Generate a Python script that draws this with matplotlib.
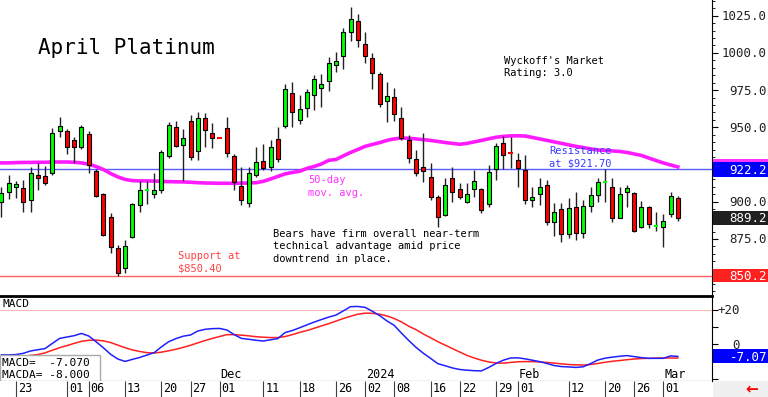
import numpy as np
import matplotlib.pyplot as plt
from matplotlib.patches import Rectangle
from matplotlib.ticker import MultipleLocator
from matplotlib.transforms import blended_transform_factory, offset_copy

# daily bars, index 0 = Oct 23 2023 ... 91 = Mar 5 2024
bar_idx = np.arange(-2, 92)
opens = [900.1, 906.5, 909.7, 909.1, 901.2, 918.0, 917.3, 919.2, 947.8, 947.8,
         941.5, 936.6, 945.5, 920.7, 905.0, 890.0, 868.8, 855.4, 876.6, 897.9,
         908.0, 905.3, 908.0, 930.8, 950.1, 938.2, 954.3, 934.3, 956.1, 946.0,
         942.9, 949.4, 930.8, 910.6, 899.0, 918.0, 927.4, 923.2, 942.0, 950.9,
         973.3, 955.0, 962.8, 971.7, 976.2, 981.3, 991.7, 997.9, 1013.9, 1021.6,
         1005.8, 996.4, 985.8, 967.9, 970.2, 956.1, 941.5, 928.7, 923.6, 916.5,
         903.5, 891.1, 915.8, 908.4, 900.1, 908.4, 908.4, 898.5, 921.8, 939.3,
         932.8, 928.1, 921.4, 901.2, 905.0, 911.3, 886.7, 895.2, 878.2, 896.7,
         878.9, 897.2, 904.6, 913.3, 910.2, 889.3, 906.4, 905.7, 883.3, 896.7,
         883.3, 883.3, 891.6, 902.4]
highs = [910.2, 917.9, 914.0, 914.5, 923.2, 925.9, 924.1, 949.4, 957.2, 948.9,
         943.7, 951.6, 947.8, 921.9, 905.7, 892.7, 871.0, 874.4, 899.4, 914.2,
         914.2, 919.2, 934.8, 953.8, 954.3, 948.7, 958.3, 960.5, 959.9, 952.7,
         943.1, 956.8, 932.1, 923.2, 923.6, 936.6, 938.6, 941.5, 950.5, 979.1,
         980.7, 971.7, 975.6, 985.2, 985.8, 997.5, 1000.8, 1016.5, 1030.6, 1026.1,
         1014.3, 1000.2, 987.4, 980.7, 976.2, 963.5, 944.9, 934.8, 946.0, 925.9,
         904.6, 915.8, 923.6, 912.8, 912.4, 921.4, 909.1, 924.7, 939.7, 944.2,
         943.7, 932.8, 931.4, 910.2, 915.8, 914.7, 899.0, 899.0, 902.4, 906.8,
         901.2, 910.2, 916.2, 921.8, 915.8, 910.2, 911.3, 906.8, 900.6, 897.2,
         893.0, 891.6, 906.8, 904.0]
lows = [889.6, 901.9, 902.6, 893.4, 893.1, 908.0, 911.3, 918.0, 943.7, 932.1,
        925.9, 935.5, 919.6, 903.0, 877.0, 865.8, 850.4, 852.0, 875.5, 893.4,
        898.5, 902.4, 905.7, 929.2, 936.6, 914.2, 928.1, 928.1, 936.6, 935.9,
        942.7, 929.9, 908.0, 897.9, 896.7, 916.9, 921.4, 920.9, 927.0, 949.4,
        950.5, 952.3, 957.2, 961.7, 963.5, 974.6, 987.4, 989.0, 1008.2, 1004.2,
        993.0, 975.6, 963.5, 953.8, 954.5, 941.5, 925.9, 917.3, 913.5, 901.2,
        883.0, 890.5, 900.1, 901.7, 899.0, 903.5, 892.3, 896.7, 914.7, 921.8,
        922.7, 910.2, 898.5, 896.7, 897.9, 884.4, 877.2, 872.8, 875.9, 874.4,
        875.5, 893.4, 900.1, 900.1, 886.3, 888.9, 896.7, 879.5, 882.2, 882.2,
        880.4, 869.9, 890.0, 887.1]
closes = [905.7, 912.9, 912.0, 899.7, 919.2, 915.8, 912.8, 946.0, 950.9, 936.6,
          936.6, 950.1, 924.7, 903.9, 877.7, 869.5, 852.0, 870.3, 898.5, 908.0,
          908.4, 908.0, 933.3, 951.6, 937.5, 943.1, 929.9, 956.5, 948.2, 942.7,
          942.7, 932.6, 913.3, 901.5, 919.2, 927.0, 922.5, 937.1, 929.0, 975.6,
          960.5, 962.1, 973.6, 982.5, 978.9, 993.0, 994.8, 1013.9, 1022.6, 1008.7,
          997.9, 986.7, 965.7, 971.1, 959.0, 942.7, 929.2, 919.4, 920.9, 903.5,
          890.0, 911.3, 906.8, 903.0, 905.0, 914.0, 894.5, 920.2, 937.5, 931.4,
          932.5, 922.5, 901.2, 903.5, 910.2, 886.3, 893.0, 878.2, 896.1, 878.9,
          897.2, 904.6, 913.1, 913.5, 889.3, 905.3, 909.5, 880.4, 896.7, 884.9,
          883.5, 887.1, 903.9, 889.2]
ma50 = [926.1, 926.1, 926.3, 926.4, 926.4, 926.5, 926.5, 926.7, 926.7, 926.7,
        926.5, 926.1, 925.2, 923.7, 921.7, 919.0, 916.7, 915.0, 914.2, 914.0,
        914.0, 913.9, 913.7, 913.5, 913.4, 913.3, 913.1, 912.8, 912.6, 912.5,
        912.4, 912.4, 912.4, 912.5, 912.6, 912.8, 913.7, 915.3, 917.0, 918.7,
        919.7, 920.5, 922.4, 923.7, 925.4, 927.8, 928.4, 930.8, 933.1, 935.1,
        937.2, 938.5, 939.7, 941.2, 942.2, 942.8, 942.6, 942.2, 941.7, 941.2,
        940.5, 939.8, 939.2, 938.6, 939.2, 940.2, 941.2, 942.3, 943.3, 943.9,
        944.2, 944.3, 944.1, 943.2, 942.2, 941.2, 940.2, 939.2, 938.2, 937.2,
        936.4, 935.5, 934.8, 934.5, 934.1, 933.8, 933.1, 932.1, 931.1, 929.4,
        927.7, 926.1, 924.7, 923.4]
macd = [-6.2, -6.2, -6.0, -5.3, -3.9, -3.2, -2.5, 0.5, 3.4, 4.2,
        5.0, 6.3, 4.8, 1.5, -2.0, -5.8, -8.6, -10.0, -8.8, -7.7,
        -6.3, -4.9, -1.5, 1.5, 3.3, 4.7, 5.4, 7.7, 8.7, 9.1,
        9.2, 8.3, 5.6, 3.4, 2.9, 2.3, 1.9, 2.6, 3.3, 6.8,
        8.0, 9.6, 11.3, 12.9, 14.4, 15.8, 17.0, 19.4, 21.9, 22.0,
        21.5, 19.2, 16.7, 13.6, 11.0, 6.5, 2.2, -1.8, -5.2, -8.2,
        -11.3, -12.5, -13.8, -14.7, -15.1, -15.4, -15.5, -13.5, -11.2, -9.3,
        -8.0, -7.9, -8.5, -9.3, -10.1, -11.2, -12.4, -13.0, -13.2, -13.5,
        -13.1, -11.3, -9.2, -8.1, -7.5, -7.0, -6.6, -7.2, -7.8, -8.2,
        -8.2, -8.2, -6.8, -7.07]
macda = [-8.5, -8.0, -7.5, -7.0, -6.5, -6.0, -5.0, -3.5, -2.0, -0.8,
         0.5, 1.7, 2.3, 2.4, 2.0, 1.0, -0.5, -2.0, -3.3, -4.2,
         -4.9, -5.1, -4.6, -3.8, -2.9, -1.8, -0.6, 0.8, 2.2, 3.4,
         4.5, 5.6, 5.6, 5.3, 4.9, 4.4, 4.1, 3.9, 3.9, 4.5,
         5.6, 6.9, 8.0, 9.3, 10.7, 12.0, 13.5, 15.0, 16.3, 17.5,
         18.1, 18.0, 17.5, 16.5, 15.0, 13.0, 10.5, 8.5, 6.0, 3.8,
         1.5, -0.5, -2.5, -4.5, -6.5, -8.0, -9.3, -10.3, -10.9, -11.0,
         -10.6, -10.2, -10.1, -10.1, -10.3, -10.6, -11.0, -11.4, -11.8, -12.0,
         -12.1, -11.8, -11.2, -10.5, -9.9, -9.5, -9.0, -8.6, -8.3, -8.2,
         -8.1, -8.0, -8.0, -8.0]

tick_pos = [0, 7, 10, 15, 20, 24, 28, 34, 39, 44, 48, 52, 57, 61, 66, 69, 76, 81, 85, 89]
tick_lbl = ['23', '01', '06', '13', '20', '27', '01', '11', '18', '26',
            '02', '08', '16', '22', '29', '01', '12', '20', '26', '01']
month_pos = [28, 48, 69, 89]
month_lbl = ['Dec', '2024', 'Feb', 'Mar']

resistance = 921.70
support = 850.40
price_ticks = [875.0, 900.0, 950.0, 975.0, 1000.0, 1025.0]
macd_ticks = [20, 0]

MONO = 'DejaVu Sans Mono'
W, H = 768, 397
fig = plt.figure(figsize=(W / 100, H / 100), dpi=100)
fig.patch.set_facecolor('white')


def fx(x):
    return x / W


def fy(y):
    return 1 - y / H


ax = fig.add_axes([0, fy(296), fx(712), 296 / H])
mx = fig.add_axes([0, fy(381), fx(712), 85 / H])
dx = fig.add_axes([0, 0, fx(712), 16 / H])
for a in (ax, mx, dx):
    a.set_xlim(-2.2, 95.7)
    a.set_xticks([])
    for s in a.spines.values():
        s.set_visible(False)
ax.set_ylim(836.7, 1035.5)
mx.set_ylim(-21.4, 28.1)
dx.set_ylim(0, 1)
dx.set_yticks([])

ax.spines['right'].set_visible(True)
mx.spines['right'].set_visible(True)
mx.spines['top'].set_visible(True)
mx.spines['top'].set_linewidth(2)
mx.spines['bottom'].set_visible(True)

# price panel
ax.axhline(resistance, color='#5a5aff', lw=1, zorder=1)
ax.axhline(support, color='#ff6060', lw=1, zorder=1)
ax.plot(bar_idx, ma50, color='#ff1aff', lw=2.6, zorder=2)

o = np.array(opens)
c = np.array(closes)
cols = np.where(c >= o, '#00ff00', '#ff0000')
ax.vlines(bar_idx, lows, highs, color='#222222', lw=1, zorder=3)
body = np.abs(c - o) >= 0.8
ax.bar(bar_idx[body], np.abs(c - o)[body], bottom=np.minimum(o, c)[body], width=0.56,
       color=cols[body], edgecolor='black', linewidth=0.8, zorder=4)
doji = ~body
ax.hlines(((o + c) / 2)[doji], bar_idx[doji] - 0.3, bar_idx[doji] + 0.3,
          color=cols[doji], lw=1.5, zorder=4)

ax.yaxis.tick_right()
ax.set_yticks(price_ticks)
ax.yaxis.set_minor_locator(MultipleLocator(5))
ax.tick_params(axis='y', which='major', length=4, labelright=False)
ax.tick_params(axis='y', which='minor', length=2)

ptr = blended_transform_factory(fig.transFigure, ax.transData)
for v in price_ticks:
    ax.text(fx(767), v, f'{v:.1f}', transform=offset_copy(ptr, fig=fig, y=-4.5, units='dots'),
            ha='right', va='baseline', fontsize=9, family=MONO, color='#222222')


def right_box(axis, val, text, fc, h, tr):
    axis.add_patch(Rectangle((fx(713), val - h / 2), fx(55), h, transform=tr,
                             facecolor=fc, edgecolor='none', clip_on=False, zorder=5))
    if text:
        axis.text(fx(767), val, text, transform=offset_copy(tr, fig=fig, y=-4.5, units='dots'),
                  ha='right', va='baseline', color='white', fontsize=9, family=MONO, zorder=6)


right_box(ax, ma50[-1], '', '#ff33ff', 10.1, ptr)
right_box(ax, resistance, '922.2', '#0000ff', 10.1, ptr)
right_box(ax, closes[-1], '889.2', '#202020', 9.5, ptr)
right_box(ax, support, '850.2', '#ff2020', 8.5, ptr)

# annotations
fig.text(fx(38), fy(54.5), 'April Platinum', fontsize=15, family=MONO, color='black')
note = dict(fontsize=7.5, family=MONO, linespacing=1.3)
fig.text(fx(504), fy(76.5), "Wyckoff's Market\nRating: 3.0", color='black', **note)
fig.text(fx(273), fy(261.5), 'Bears have firm overall near-term\ntechnical advantage amid price\ndowntrend in place.',
         color='black', **note)
fig.text(fx(308), fy(195.5), '50-day\nmov. avg.', color='#ff33ff', **note)
fig.text(fx(549), fy(166), 'Resistance\nat $921.70', color='#3a3aff', **note)
fig.text(fx(178), fy(271.7), 'Support at\n$850.40', color='#ff4040', **note)

# MACD panel
mx.axhline(20, color='#ffb8b8', lw=0.8, zorder=1)
mx.plot(bar_idx, macda, color='#ff2020', lw=1.1, zorder=2)
mx.plot(bar_idx, macd, color='#2020ff', lw=1.1, zorder=3)
mx.yaxis.tick_right()
mx.set_yticks([-20, -10, 0, 10, 20])
mx.tick_params(axis='y', length=4, labelright=False)
mtr = blended_transform_factory(fig.transFigure, mx.transData)
for v in macd_ticks:
    mx.text(fx(740), v, f'{v:+d}' if v else '0', transform=offset_copy(mtr, fig=fig, y=-4.5, units='dots'),
            ha='right', va='baseline', fontsize=9, family=MONO, color='#222222')
right_box(mx, macd[-1], f'{macd[-1]:.2f}', '#0000ff', 8.2, mtr)

ltr = blended_transform_factory(mx.transAxes, fig.transFigure)
mx.text(0.003, fy(307.3), 'MACD', transform=ltr, fontsize=8, family=MONO, va='baseline')
mx.add_patch(Rectangle((0, 0), 100 / 712, 26 / 85, transform=mx.transAxes, facecolor='white',
                       edgecolor='#aaaaaa', lw=1, zorder=6))
mx.text(0.003, fy(365.7), f'MACD=  {macd[-1]:.3f}', transform=ltr, fontsize=8, family=MONO, zorder=7)
mx.text(0.003, fy(377.7), f'MACDA= {macda[-1]:.3f}', transform=ltr, fontsize=8, family=MONO, zorder=7)

xtr = blended_transform_factory(mx.transData, fig.transFigure)
for p, lbl in zip(month_pos, month_lbl):
    mx.text(p, fy(378.3), lbl, transform=offset_copy(xtr, fig=fig, x=1, units='dots'),
            fontsize=8.5, family=MONO, va='baseline', zorder=7)

# date strip
dx.vlines(tick_pos, 0, 1, color='#404040', lw=0.8)
dtr = blended_transform_factory(dx.transData, dx.transAxes)
for p, lbl in zip(tick_pos, tick_lbl):
    dx.text(p, 0.29, lbl, transform=offset_copy(dtr, fig=fig, x=2, units='dots'),
            fontsize=8.5, family=MONO, va='baseline')

fig.patches.append(Rectangle((fx(713), 0), fx(55), 16 / H, transform=fig.transFigure,
                             facecolor='#f0f0f0', edgecolor='none', zorder=0))
fig.text(fx(752), fy(389), '\u2190', color='#ff0000', fontsize=11, weight='bold', ha='center', va='center')

fig.savefig('out.png', dpi=100)
